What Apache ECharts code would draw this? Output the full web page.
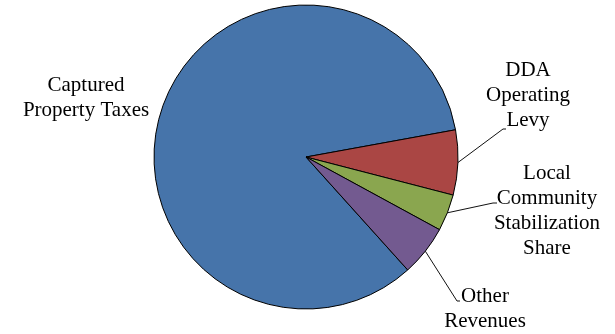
<!DOCTYPE html>
<html>
<head>
<meta charset="utf-8">
<script src="https://cdn.jsdelivr.net/npm/echarts@6/dist/echarts.min.js"></script>
<style>
html,body{margin:0;padding:0;background:#fff;}
#chart{width:615px;height:334px;}
</style>
</head>
<body>
<div id="chart"></div>
<script>
// Data (percent shares)
const categories = ['Captured Property Taxes', 'DDA Operating Levy', 'Local Community Stabilization Share', 'Other Revenues'];
const labelTexts = ['Captured\nProperty Taxes', 'DDA\nOperating\nLevy', 'Local\nCommunity\nStabilization\nShare', 'Other\nRevenues'];
const values = [83.8, 6.9, 3.9, 5.4];
const colors = ['#4674AA', '#AA4644', '#8AA64F', '#735A90'];

// Label placement (layout only): text anchor (center-top) and leader elbow / end
const labelPos = [
  { x: 86, y: 73 },
  { x: 528, y: 58 },
  { x: 547, y: 161 },
  { x: 485, y: 284 }
];
const leader = [
  null,
  { elbow: [503, 129], end: [506, 129] },
  { elbow: [493, 203], end: [497, 203] },
  { elbow: [457, 301], end: [460, 301] }
];

const SERIF = 'Liberation Serif';

const chart = echarts.init(document.getElementById('chart'), null, { renderer: 'canvas' });
chart.setOption({
  animation: false,
  backgroundColor: '#fff',
  textStyle: { fontFamily: SERIF },
  series: [{
    type: 'pie',
    center: [306, 157],
    radius: 152,
    startAngle: 312,
    clockwise: true,
    avoidLabelOverlap: false,
    itemStyle: { borderColor: '#000', borderWidth: 1 },
    label: {
      show: true,
      position: 'outside',
      color: '#000',
      fontFamily: SERIF,
      fontSize: 21,
      lineHeight: 25,
      align: 'center',
      formatter: p => labelTexts[p.dataIndex].split('\n').map(l => '{t|' + l + '}').join('\n'),
      rich: {
        t: { fontFamily: SERIF, fontSize: 21, lineHeight: 25, color: '#000', align: 'center' }
      }
    },
    labelLine: {
      show: true,
      length: 10,
      length2: 5,
      smooth: false,
      lineStyle: { color: '#111', width: 1 }
    },
    labelLayout: function (params) {
      const i = params.dataIndex;
      const out = { x: labelPos[i].x, y: labelPos[i].y, align: 'center', verticalAlign: 'top' };
      if (leader[i] && params.labelLinePoints) {
        out.labelLinePoints = [params.labelLinePoints[0], leader[i].elbow, leader[i].end];
      }
      return out;
    },
    data: categories.map((name, i) => ({
      name: name,
      value: values[i],
      itemStyle: { color: colors[i] },
      labelLine: { show: i !== 0 }
    }))
  }]
});
</script>
</body>
</html>
